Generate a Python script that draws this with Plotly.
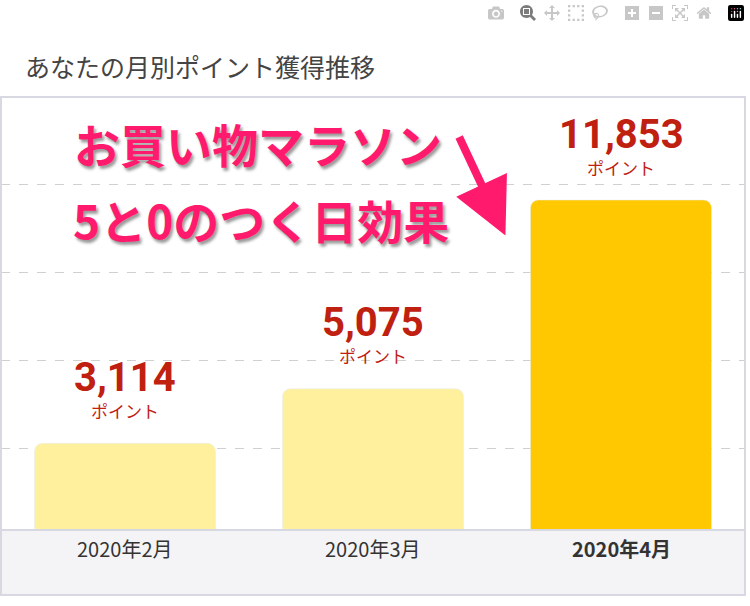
import plotly.graph_objects as go

months = ["2020年2月", "2020年3月", "2020年4月"]
points = [3114, 5075, 11853]
colors = ["#fff09e", "#fff09e", "#ffc800"]
point_labels = ["3,114", "5,075", "11,853"]

F = "Noto Sans CJK JP"
fig = go.Figure(go.Bar(x=months, y=points, marker_color=colors, width=0.73,
                       hoverinfo="skip"))

anns = []
for m, v, t in zip(months, points, point_labels):
    anns.append(dict(x=m, y=v, text=f"<b>{t}</b>", showarrow=False, yshift=66,
                     font=dict(family="Roboto", size=40, color="#c0200f")))
    anns.append(dict(x=m, y=v, text="ポイント", showarrow=False, yshift=33,
                     font=dict(family=F, size=17, color="#c0200f")))
for i, m in enumerate(months):
    t = f"<b>{m}</b>" if i == 2 else m
    anns.append(dict(x=m, y=-0.08, yref="paper", text=t, showarrow=False,
                     font=dict(family=F, size=20, color="#333333")))
anns.append(dict(xref="paper", yref="paper", x=0.03, y=1.117, xanchor="left",
                 text="あなたの月別ポイント獲得推移", showarrow=False,
                 font=dict(family=F, size=25, color="#444444")))
shadow = "2px 3px 3px #999, -2px -2px 0 #fff, 2px -2px 0 #fff, -2px 2px 0 #fff, 2px 2px 0 #fff"
anns.append(dict(xref="paper", yref="paper", x=0.345, y=0.975,
                 text="<b>お買い物マラソン</b>", showarrow=False,
                 font=dict(family=F, size=46, color="#ff1a6e", shadow=shadow)))
anns.append(dict(xref="paper", yref="paper", x=0.35, y=0.80,
                 text="<b>5と0のつく日効果</b>", showarrow=False,
                 font=dict(family=F, size=46, color="#ff1a6e", shadow=shadow)))
anns.append(dict(xref="paper", yref="paper", x=0.678, y=0.68, ax=-47, ay=-100,
                 text="", showarrow=True, arrowhead=2, arrowsize=1.4, arrowwidth=8,
                 arrowcolor="#ff1a6e"))

shapes = [
    dict(type="rect", xref="paper", yref="paper", x0=0, x1=1, y0=-0.15, y1=0,
         fillcolor="#f4f4f6", line=dict(width=0), layer="below"),
    dict(type="rect", xref="paper", yref="paper", x0=0, x1=1, y0=-0.15, y1=1,
         line=dict(color="#d8d8e2", width=2), fillcolor="rgba(0,0,0,0)"),
    dict(type="line", xref="paper", yref="paper", x0=0, x1=1, y0=0, y1=0,
         line=dict(color="#d8d8e2", width=2)),
]

fig.update_layout(
    width=750, height=606, margin=dict(l=1, r=5, t=97, b=76),
    paper_bgcolor="white", plot_bgcolor="white", showlegend=False,
    barcornerradius=8, annotations=anns, shapes=shapes,
    xaxis=dict(showticklabels=False, showgrid=False, range=[-0.5, 2.5]),
    yaxis=dict(range=[0, 15553], tick0=2945, dtick=3161, showticklabels=False,
               gridcolor="#d0d0d0", griddash="dash", gridwidth=1, zeroline=False),
)
fig.write_html("out.html")
with open("out.html", encoding="utf-8") as f:
    html = f.read()
html = html.replace("<head>", "<head><style>html,body{margin:0;padding:0;overflow:hidden}</style>", 1)
with open("out.html", "w", encoding="utf-8") as f:
    f.write(html)
